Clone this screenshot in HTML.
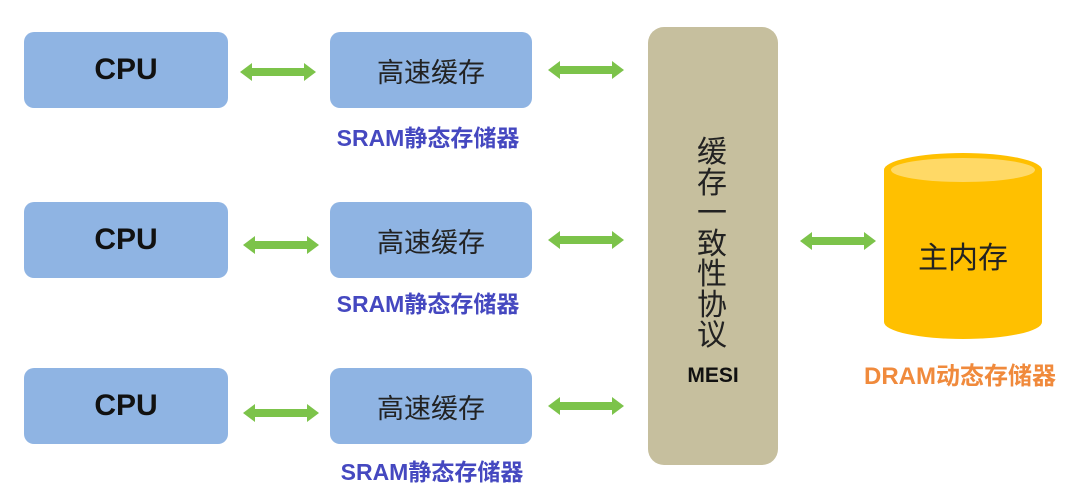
<!DOCTYPE html>
<html><head><meta charset="utf-8"><style>
body{margin:0;width:1080px;height:496px;background:#fff;position:relative;overflow:hidden;font-family:"Liberation Sans","Noto Sans CJK SC",sans-serif}
.b{position:absolute;background:#8fb4e3;border-radius:10px;display:flex;align-items:center;justify-content:center;color:#111}
.cpu{left:24px;width:204px;height:76px;font-weight:bold;font-size:30px}
.c{left:330px;width:202px;height:76px;font-size:27px;color:#222}
.s{position:absolute;width:240px;text-align:center;color:#4548c0;font-weight:bold;font-size:23px}
svg{position:absolute;left:0;top:0}
</style></head><body>
<div class="b cpu" style="top:32px">CPU</div>
<div class="b cpu" style="top:202px">CPU</div>
<div class="b cpu" style="top:368px">CPU</div>
<div class="b c" style="top:32px">高速缓存</div>
<div class="b c" style="top:202px">高速缓存</div>
<div class="b c" style="top:368px">高速缓存</div>
<div class="s" style="left:308px;top:119px">SRAM静态存储器</div>
<div class="s" style="left:308px;top:285px">SRAM静态存储器</div>
<div class="s" style="left:312px;top:453px">SRAM静态存储器</div>
<div style="position:absolute;left:648px;top:27px;width:130px;height:438px;background:#c6bf9e;border-radius:16px"></div>
<div style="position:absolute;left:688px;top:138px;width:48px;text-align:center;font-size:30px;line-height:30.5px;color:#222">缓<br>存<br>一<br>致<br>性<br>协<br>议</div>
<div style="position:absolute;left:648px;top:364px;width:130px;text-align:center;font-weight:bold;font-size:21px;color:#111">MESI</div>
<svg width="1080" height="496">
<defs><g id="a"><polygon points="0,0 12,-9 12,-4 64,-4 64,-9 76,0 64,9 64,4 12,4 12,9" fill="#7cc34a"/></g></defs>
<use href="#a" x="240" y="72"/><use href="#a" x="243" y="245"/><use href="#a" x="243" y="413"/>
<use href="#a" x="548" y="70"/><use href="#a" x="548" y="240"/><use href="#a" x="548" y="406"/>
<use href="#a" x="800" y="241"/>
<path d="M884,170 L884,322 A79,17 0 0 0 1042,322 L1042,170 Z" fill="#ffc000"/>
<ellipse cx="963" cy="170" rx="79" ry="17" fill="#ffc000"/>
<ellipse cx="963" cy="170" rx="72" ry="12" fill="#ffd966"/>
<text x="963" y="268" text-anchor="middle" font-size="30" fill="#222" font-family="Liberation Sans,Noto Sans CJK SC,sans-serif">主内存</text>
</svg>
<div style="position:absolute;left:840px;top:356px;width:240px;text-align:center;color:#f08a3c;font-weight:bold;font-size:24px">DRAM动态存储器</div>
</body></html>
